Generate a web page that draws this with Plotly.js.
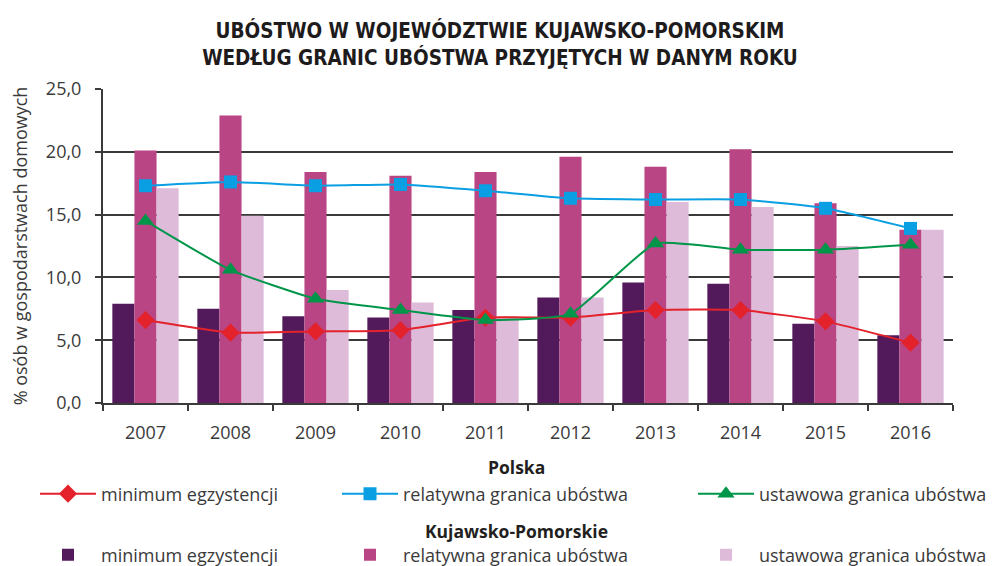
<!DOCTYPE html>
<html>
<head>
<meta charset="utf-8">
<script src="https://cdn.plot.ly/plotly-3.0.1.min.js"></script>
<style>
html,body{margin:0;padding:0;background:#fff;}
#chart{width:993px;height:566px;}
</style>
</head>
<body>
<div id="chart"></div>
<script>
// ---- data ----
const years = ['2007','2008','2009','2010','2011','2012','2013','2014','2015','2016'];
// Polska (lines)
const plMinimum = [6.6, 5.6, 5.7, 5.8, 6.8, 6.8, 7.4, 7.4, 6.5, 4.8];
const plRelatywna = [17.3, 17.6, 17.3, 17.4, 16.9, 16.3, 16.2, 16.2, 15.5, 13.9];
const plUstawowa = [14.5, 10.6, 8.3, 7.4, 6.6, 7.1, 12.7, 12.2, 12.2, 12.6];
// Kujawsko-Pomorskie (bars)
const kpMinimum = [7.9, 7.5, 6.9, 6.8, 7.4, 8.4, 9.6, 9.5, 6.3, 5.4];
const kpRelatywna = [20.1, 22.9, 18.4, 18.1, 18.4, 19.6, 18.8, 20.2, 15.9, 13.8];
const kpUstawowa = [17.1, 14.9, 9.0, 8.0, 6.9, 8.4, 16.0, 15.6, 12.5, 13.8];
const yTicks = [0, 5, 10, 15, 20, 25];
const yTickLabels = ['0,0', '5,0', '10,0', '15,0', '20,0', '25,0'];

const names = ['minimum egzystencji', 'relatywna granica ubóstwa', 'ustawowa granica ubóstwa'];

const W = 993, H = 566;
const txt = '#3a3a3a';
const baseFont = 'Open Sans, DejaVu Sans, sans-serif';

const traces = [
  {type:'bar', x:years, y:kpMinimum, name:names[0], marker:{color:'#531a5b'}, legend:'legend4'},
  {type:'bar', x:years, y:kpRelatywna, name:names[1], marker:{color:'#b94584'}, legend:'legend5'},
  {type:'bar', x:years, y:kpUstawowa, name:names[2], marker:{color:'#ddbbd9'}, legend:'legend6'},
  {type:'scatter', mode:'lines+markers', x:years, y:plMinimum, name:names[0],
   line:{color:'#e3222b', width:2, shape:'spline', smoothing:0.45},
   marker:{symbol:'diamond', size:14, color:'#e3222b'}, legend:'legend'},
  {type:'scatter', mode:'lines+markers', x:years, y:plRelatywna, name:names[1],
   line:{color:'#0a9fe2', width:2, shape:'spline', smoothing:0.45},
   marker:{symbol:'square', size:13, color:'#0a9fe2'}, legend:'legend2'},
  {type:'scatter', mode:'lines+markers', x:years, y:plUstawowa, name:names[2],
   line:{color:'#00964a', width:2, shape:'spline', smoothing:0.45},
   marker:{symbol:'triangle-up', size:15, color:'#00964a'}, legend:'legend3'}
];

function leg(px, py){
  return {x: px / W, y: 1 - py / H, xref:'container', yref:'container',
    xanchor:'left', yanchor:'middle', orientation:'h', bgcolor:'rgba(0,0,0,0)',
    borderwidth:0, itemwidth:56, font:{family:baseFont, size:18, color:txt},
    itemclick:false, itemdoubleclick:false};
}

const layout = {
  width: W, height: H,
  paper_bgcolor:'#fff', plot_bgcolor:'#fff',
  margin:{l:103, r:40, t:89, b:163, autoexpand:false},
  separators: ',.',
  barmode:'group', bargap:0.22, bargroupgap:0,
  title:{
    text:'UBÓSTWO W WOJEWÓDZTWIE KUJAWSKO-POMORSKIM<br>WEDŁUG GRANIC UBÓSTWA PRZYJĘTYCH W DANYM ROKU',
    font:{family:'DejaVu Sans Condensed, Liberation Sans Narrow, sans-serif', size:20.5, color:'#1e1b1c', weight:'bold'},
    x:500/W, xanchor:'center', xref:'container', y:1 - 38/H, yanchor:'top', yref:'container'
  },
  xaxis:{
    type:'category', range:[-0.5, 9.5], automargin:false,
    showline:true, linecolor:'#3a3a3a', linewidth:2,
    ticks:'outside', tickson:'boundaries', ticklen:6, tickcolor:'#3a3a3a', tickwidth:2,
    tickfont:{family:baseFont, size:18, color:txt}, ticklabelstandoff:12,
    showgrid:false, zeroline:false, fixedrange:true
  },
  yaxis:{
    range:[0,25], tickvals:yTicks, ticktext:yTickLabels, automargin:false,
    showline:true, linecolor:'#3a3a3a', linewidth:2,
    ticks:'outside', ticklen:6, tickcolor:'#3a3a3a', tickwidth:2,
    showgrid:true, gridcolor:'#3a3a3a', gridwidth:2, zeroline:false,
    tickfont:{family:baseFont, size:18, color:txt}, ticklabelstandoff:10,
    title:{text:'% osób w gospodarstwach domowych', font:{family:baseFont, size:18, color:txt}, standoff:14},
    fixedrange:true
  },
  legend: leg(35, 494),
  legend2: leg(337, 494),
  legend3: leg(693, 494),
  legend4: leg(35, 555),
  legend5: leg(337, 555),
  legend6: leg(693, 555),
  annotations:[
    {text:'Polska', xref:'paper', yref:'paper', x:(516-103)/850, y:1 - (467-89)/314, xanchor:'center', yanchor:'middle', showarrow:false,
     font:{family:baseFont, size:17.5, color:'#231f20', weight:'bold'}},
    {text:'Kujawsko-Pomorskie', xref:'paper', yref:'paper', x:(516-103)/850, y:1 - (531-89)/314, xanchor:'center', yanchor:'middle', showarrow:false,
     font:{family:baseFont, size:17.5, color:'#231f20', weight:'bold'}}
  ],
  showlegend:true,
  hovermode:false
};

Plotly.newPlot('chart', traces, layout, {displayModeBar:false, staticPlot:true});
</script>
</body>
</html>
